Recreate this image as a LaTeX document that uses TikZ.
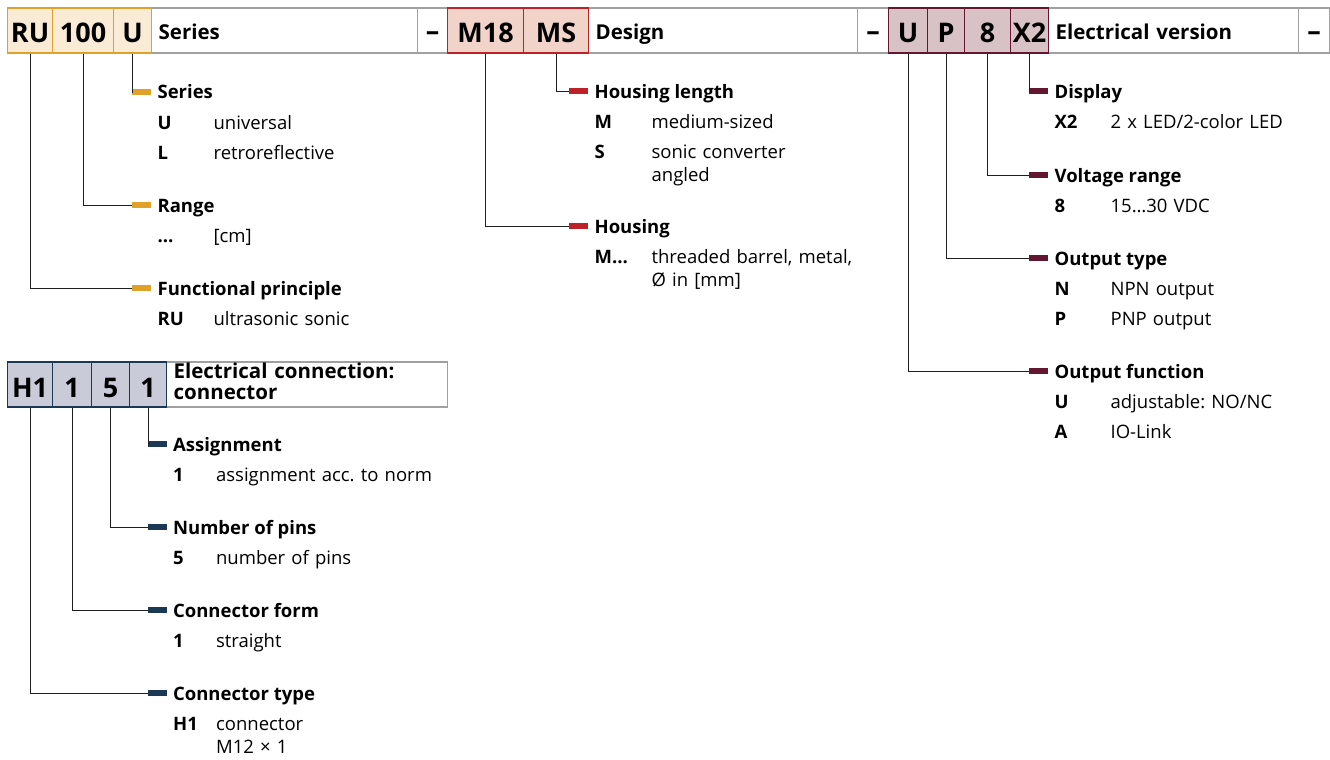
\documentclass[tikz,border=0pt]{standalone}
\usepackage{fontspec}
\setmainfont{Open Sans}
\usepackage{tikz}
\usetikzlibrary{positioning}
\frenchspacing
\definecolor{ink}{HTML}{1E1E1E}
\definecolor{frame}{HTML}{A0A0A0}
\definecolor{amber}{HTML}{DFA127}
\definecolor{amberlight}{HTML}{FAEBD6}
\definecolor{crimson}{HTML}{BE2229}
\definecolor{crimsonlight}{HTML}{F1D3CA}
\definecolor{wine}{HTML}{621630}
\definecolor{winelight}{HTML}{D8C2C6}
\definecolor{navy}{HTML}{1D3854}
\definecolor{navylight}{HTML}{C9CBD8}
\newcommand{\codefont}{\fontsize{27}{30}\selectfont\bfseries}
\newcommand{\titlefont}{\fontsize{20.5}{21.5}\selectfont\bfseries}
\newcommand{\keyfont}{\fontsize{18.5}{23}\selectfont}
\tikzset{
  cell/.style={
    minimum height=45pt,
    inner ysep=0pt,
    line width=1.2pt,
    anchor=west
  },
  codecell/.style={
    cell,
    draw=#1,
    fill=#1light,
    inner xsep=0pt,
    font=\codefont,
    text height=25pt,
    text depth=0pt
  },
  namecell/.style={
    cell,
    draw=frame,
    fill=white,
    inner xsep=7pt,
    align=left,
    font=\titlefont,
    text height=19pt,
    text depth=0pt
  },
  dashcell/.style={
    cell,
    draw=frame,
    fill=white,
    inner xsep=0pt,
    font=\codefont,
    text height=21pt,
    text depth=0pt
  },
  bar/.style={
    fill=#1,
    minimum width=19pt,
    minimum height=6pt,
    inner sep=0pt,
    anchor=west
  },
  lead/.style={
    draw=ink,
    line width=0.9pt
  },
  heading/.style={
    inner sep=0pt,
    font=\keyfont\bfseries,
    text height=14pt,
    text depth=0pt
  },
  keycode/.style={
    heading
  },
  keytext/.style={
    inner sep=0pt,
    anchor=north west,
    font=\keyfont,
    text width=220pt,
    align=left,
    text height=14pt,
    text depth=0pt
  }
}

\begin{document}
\begin{tikzpicture}[x=1pt, y=-1pt]
  \useasboundingbox (0,0) rectangle (1330,760);
  \foreach \name/\xa/\len/\txt in {
    t-series/151/266/Series,
    t-design/588/269/Design,
    t-elec/1048/250/Electrical version%
  }{
    \pgfmathsetmacro{\tw}{\len-14}
    \node[namecell, text width=\tw pt] (\name) at (\xa,30.5) {\txt};
  }
  \node[namecell, text width=267pt, text height=15pt, text depth=28pt]
    (t-conn) at (166,384.5) {Electrical connection:\\connector};
  \foreach \name/\xa/\len in {dash-a/417/30, dash-b/857/31, dash-c/1298/31}{
    \node[dashcell, minimum width=\len pt] (\name) at (\xa,30.5) {–};
  }
  \foreach \name/\xa/\ya/\len/\txt/\hue in {
    c-ru/7/30.5/45/RU/amber,
    c-range/52/30.5/61/100/amber,
    c-series/113/30.5/38/U/amber,
    c-housing/447/30.5/76/M18/crimson,
    c-length/523/30.5/65/MS/crimson,
    c-func/888/30.5/39/U/wine,
    c-type/927/30.5/37/P/wine,
    c-volt/964/30.5/46/8/wine,
    c-disp/1010/30.5/38/X2/wine,
    c-ctype/7/384.5/45/H1/navy,
    c-form/52/384.5/39/1/navy,
    c-pins/91/384.5/38/5/navy,
    c-assign/129/384.5/37/1/navy%
  }{
    \node[codecell=\hue, minimum width=\len pt] (\name) at (\xa,\ya) {\txt};
  }

  \foreach \name/\cell/\yy/\head in {
    series/c-series/92/Series,
    range/c-range/205/Range,
    princ/c-ru/288/Functional principle%
  }{
    \node[bar=amber] (b-\name) at (132,\yy) {};
    \node[heading, right=6pt of b-\name] (h-\name) {\head};
    \draw[lead] (\cell.south) |- (b-\name.west);
  }
  \foreach \name/\prev/\code/\desc in {
    univ/h-series/U/universal,
    retro/k-univ/L/retroreflective,
    cm/h-range/…/{[cm]},
    sonic/h-princ/RU/ultrasonic sonic%
  }{
    \node[keycode, below right=16pt and 0pt of \prev.south west] (k-\name) {\code};
    \node[keytext] (d-\name) at ([xshift=56pt]k-\name.north west) {\desc};
  }

  \foreach \name/\cell/\yy/\head in {
    length/c-length/91/Housing length,
    housing/c-housing/226/Housing%
  }{
    \node[bar=crimson] (b-\name) at (569,\yy) {};
    \node[heading, right=6pt of b-\name] (h-\name) {\head};
    \draw[lead] (\cell.south) |- (b-\name.west);
  }
  \foreach \name/\prev/\code/\desc in {
    medium/h-length/M/medium-sized,
    angled/k-medium/S/{sonic converter\\angled},
    barrel/h-housing/M…/{threaded barrel, metal,\\Ø in [mm]}%
  }{
    \node[keycode, below right=16pt and 0pt of \prev.south west] (k-\name) {\code};
    \node[keytext] (d-\name) at ([xshift=57pt]k-\name.north west) {\desc};
  }

  \foreach \name/\cell/\yy/\head in {
    disp/c-disp/91/Display,
    volt/c-volt/175/Voltage range,
    otype/c-type/258/Output type,
    ofunc/c-func/371/Output function%
  }{
    \node[bar=wine] (b-\name) at (1029,\yy) {};
    \node[heading, right=6pt of b-\name] (h-\name) {\head};
    \draw[lead] (\cell.south) |- (b-\name.west);
  }
  \foreach \name/\prev/\code/\desc in {
    led/h-disp/X2/{2 x LED/2-color LED},
    vdc/h-volt/8/15…30 VDC,
    npn/h-otype/N/NPN output,
    pnp/k-npn/P/PNP output,
    nonc/h-ofunc/U/{adjustable: NO/NC},
    iolink/k-nonc/A/IO-Link%
  }{
    \node[keycode, below right=16pt and 0pt of \prev.south west] (k-\name) {\code};
    \node[keytext] (d-\name) at ([xshift=56pt]k-\name.north west) {\desc};
  }

  \foreach \name/\cell/\yy/\head in {
    assign/c-assign/444/Assignment,
    pins/c-pins/527/Number of pins,
    form/c-form/610/Connector form,
    ctype/c-ctype/693/Connector type%
  }{
    \node[bar=navy] (b-\name) at (147.5,\yy) {};
    \node[heading, right=6pt of b-\name] (h-\name) {\head};
    \draw[lead] (\cell.south) |- (b-\name.west);
  }
  \foreach \name/\prev/\code/\desc in {
    norm/h-assign/1/assignment acc. to norm,
    npins/h-pins/5/number of pins,
    straight/h-form/1/straight,
    plug/h-ctype/H1/{connector\\M12 × 1}%
  }{
    \node[keycode, below right=16pt and 0pt of \prev.south west] (k-\name) {\code};
    \node[keytext] (d-\name) at ([xshift=43pt]k-\name.north west) {\desc};
  }
\end{tikzpicture}
\end{document}
